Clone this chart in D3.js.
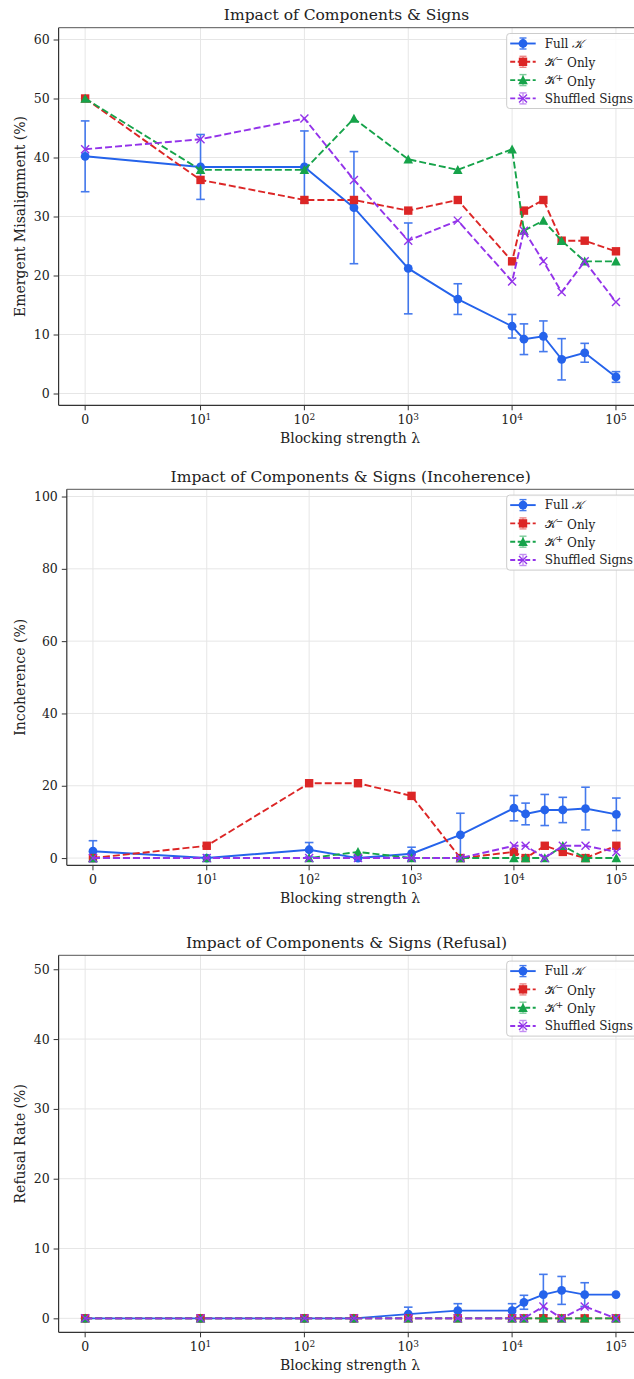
<!DOCTYPE html>
<html>
<head>
<meta charset="utf-8">
<script src="https://cdn.jsdelivr.net/npm/d3@7"></script>
<style>
  html, body { margin: 0; padding: 0; background: #fff; }
  svg text { font-family: "DejaVu Serif", serif; fill: #222; }
</style>
</head>
<body>
<svg id="chart" width="634" height="1379"></svg>
<script>
// Blocking strengths (x values) shared by all panels
const lambdas = [0, 10, 100, 300, 1000, 3000, 10000, 13000, 20000, 30000, 50000, 100000];
const xTickValues = [0, 10, 100, 1000, 10000, 100000];

// Series names
const seriesNames = ["Full", "K- Only", "K+ Only", "Shuffled Signs"];

// Emergent misalignment (%)
const misFull    = [40.2, 38.4, 38.4, 31.5, 21.2, 16.0, 11.4, 9.2, 9.7, 5.8, 6.9, 2.8];
const misFullErr = [6.0, 5.5, 6.1, 9.5, 7.7, 2.6, 2.0, 2.6, 2.6, 3.5, 1.6, 0.9];
const misNeg     = [50.0, 36.2, 32.8, 32.8, 31.0, 32.8, 22.4, 31.0, 32.8, 25.9, 25.9, 24.1];
const misPos     = [50.0, 37.9, 37.9, 46.6, 39.7, 37.9, 41.4, 27.6, 29.3, 25.9, 22.4, 22.4];
const misShuf    = [41.4, 43.1, 46.6, 36.2, 25.9, 29.3, 19.0, 27.6, 22.4, 17.2, 22.4, 15.5];

// Incoherence (%)
const incFull    = [1.9, 0, 2.3, 0, 1.2, 6.4, 13.8, 12.2, 13.3, 13.3, 13.7, 12.1];
const incFullErr = [2.9, 0, 2.0, 0, 1.8, 6.0, 3.5, 3.0, 4.3, 3.5, 5.9, 4.5];
const incNeg     = [0, 3.4, 20.7, 20.7, 17.2, 0, 1.7, 0, 3.4, 1.7, 0, 3.4];
const incPos     = [0, 0, 0, 1.7, 0, 0, 0, 0, 0, 3.4, 0, 0];
const incShuf    = [0, 0, 0, 0, 0, 0, 3.4, 3.4, 0, 3.4, 3.4, 1.7];

// Refusal rate (%)
const refFull    = [0, 0, 0, 0, 0.6, 1.1, 1.1, 2.3, 3.4, 4.0, 3.4, 3.4];
const refFullErr = [0, 0, 0, 0, 1.0, 1.0, 1.0, 1.0, 2.9, 2.0, 1.7, 0];
const refNeg     = [0, 0, 0, 0, 0, 0, 0, 0, 0, 0, 0, 0];
const refPos     = [0, 0, 0, 0, 0, 0, 0, 0, 0, 0, 0, 0];
const refShuf    = [0, 0, 0, 0, 0, 0, 0, 0, 1.7, 0, 1.7, 0];

// Y-axis ticks per panel
const misTicks = [0, 10, 20, 30, 40, 50, 60];
const incTicks = [0, 20, 40, 60, 80, 100];
const refTicks = [0, 10, 20, 30, 40, 50];

const colors = { full: "#2563eb", neg: "#dc2626", pos: "#16a34a", shuf: "#9333ea" };

const panels = [
  { title: "Impact of Components & Signs", ylabel: "Emergent Misalignment (%)",
    left: 58.6, top: 27.7, bottom: 405.3, ydom: [-2, 62], yticks: misTicks,
    full: misFull, fullErr: misFullErr, neg: misNeg, pos: misPos, shuf: misShuf },
  { title: "Impact of Components & Signs (Incoherence)", ylabel: "Incoherence (%)",
    left: 66.8, top: 489.3, bottom: 865.3, ydom: [-2, 102], yticks: incTicks,
    full: incFull, fullErr: incFullErr, neg: incNeg, pos: incPos, shuf: incShuf },
  { title: "Impact of Components & Signs (Refusal)", ylabel: "Refusal Rate (%)",
    left: 58.6, top: 955.3, bottom: 1332.3, ydom: [-2, 52], yticks: refTicks,
    full: refFull, fullErr: refFullErr, neg: refNeg, pos: refPos, shuf: refShuf }
];
const axesRight = 642.5;

// Symmetric log transform (linear below 10, log10 above), matching a symlog axis
function symlogT(v) {
  const lt = 10, ls = 1 / (1 - 1 / 10);
  const a = Math.abs(v);
  return a <= lt ? v * ls : Math.sign(v) * lt * (ls + Math.log10(a / lt));
}

const svg = d3.select("#chart");
svg.append("rect").attr("width", 634).attr("height", 1379).attr("fill", "#fff");

// Marker shapes (relative to the marker centre)
function drawMarker(g, kind, color) {
  if (kind === "circle") {
    g.append("circle").attr("r", 4.4).attr("fill", color);
  } else if (kind === "square") {
    g.append("rect").attr("x", -4.2).attr("y", -4.2).attr("width", 8.4).attr("height", 8.4).attr("fill", color);
  } else if (kind === "triangle") {
    g.append("path").attr("d", "M0,-4.8L4.8,4.2L-4.8,4.2Z").attr("fill", color);
  } else {
    g.append("path").attr("d", "M-4,-4L4,4M-4,4L4,-4").attr("stroke", color).attr("stroke-width", 1.4).attr("fill", "none");
  }
}

const seriesDefs = [
  { key: "full", kind: "circle", dash: null },
  { key: "neg", kind: "square", dash: "7,3" },
  { key: "pos", kind: "triangle", dash: "7,3" },
  { key: "shuf", kind: "x", dash: "7,3" }
];

panels.forEach((p, pi) => {
  const tmin = symlogT(d3.min(lambdas)), tmax = symlogT(d3.max(lambdas));
  const m = (tmax - tmin) * 0.05;
  const xs = d3.scaleLinear().domain([tmin - m, tmax + m]).range([p.left, axesRight]);
  const x = v => xs(symlogT(v));
  const y = d3.scaleLinear().domain(p.ydom).range([p.bottom, p.top]);
  const g = svg.append("g");

  const clipId = "clip" + pi;
  svg.append("clipPath").attr("id", clipId).append("rect")
    .attr("x", p.left).attr("y", p.top).attr("width", axesRight - p.left).attr("height", p.bottom - p.top);

  // grid
  g.append("g").selectAll("line").data(xTickValues).join("line")
    .attr("x1", d => x(d)).attr("x2", d => x(d)).attr("y1", p.top).attr("y2", p.bottom)
    .attr("stroke", "#e6e6e6").attr("stroke-width", 1);
  g.append("g").selectAll("line").data(p.yticks).join("line")
    .attr("x1", p.left).attr("x2", axesRight).attr("y1", d => y(d)).attr("y2", d => y(d))
    .attr("stroke", "#e6e6e6").attr("stroke-width", 1);

  // y axis
  const ya = g.append("g").attr("transform", `translate(${p.left},0)`)
    .call(d3.axisLeft(y).tickValues(p.yticks).tickSize(5).tickPadding(4).tickFormat(d3.format("d")));
  ya.select(".domain").remove();
  ya.selectAll(".tick line").attr("stroke", "#333");
  ya.selectAll(".tick text").style("font-size", "12.5px").style("font-family", "DejaVu Serif").attr("fill", "#222");

  // x axis with power-of-ten labels
  const xa = g.append("g").attr("transform", `translate(0,${p.bottom})`);
  xa.selectAll("line").data(xTickValues).join("line")
    .attr("x1", d => x(d)).attr("x2", d => x(d)).attr("y1", 0).attr("y2", 5).attr("stroke", "#333");
  const xt = xa.selectAll("text").data(xTickValues).join("text")
    .attr("x", d => x(d)).attr("y", 19).attr("text-anchor", "middle").style("font-size", "12.5px");
  xt.each(function(d) {
    const t = d3.select(this);
    if (d === 0) { t.text("0"); return; }
    t.append("tspan").text("10");
    t.append("tspan").attr("dy", "-0.45em").style("font-size", "9px").text(String(Math.round(Math.log10(d))));
  });

  // spines
  g.append("line").attr("x1", p.left).attr("x2", p.left).attr("y1", p.top).attr("y2", p.bottom).attr("stroke", "#333").attr("stroke-width", 1.2);
  g.append("line").attr("x1", p.left).attr("x2", axesRight).attr("y1", p.bottom).attr("y2", p.bottom).attr("stroke", "#333").attr("stroke-width", 1.2);
  g.append("line").attr("x1", p.left).attr("x2", axesRight).attr("y1", p.top).attr("y2", p.top).attr("stroke", "#555").attr("stroke-width", 1);

  // title & labels
  g.append("text").attr("x", (p.left + axesRight) / 2 - 4).attr("y", p.top - 7.5).attr("text-anchor", "middle")
    .style("font-size", "15.5px").text(p.title);
  g.append("text").attr("x", 350).attr("y", p.bottom + 38).attr("text-anchor", "middle")
    .style("font-size", "14px").text("Blocking strength λ");
  g.append("text").attr("transform", `translate(24.5,${(p.top + p.bottom) / 2}) rotate(-90)`)
    .attr("text-anchor", "middle").style("font-size", "14px").text(p.ylabel);

  // series
  const plot = g.append("g").attr("clip-path", `url(#${clipId})`);
  seriesDefs.forEach(s => {
    const vals = p[s.key];
    const color = colors[s.key];
    const pts = lambdas.map((l, i) => [l, vals[i]]);
    plot.append("path").datum(pts)
      .attr("d", d3.line().x(d => x(d[0])).y(d => y(d[1])))
      .attr("fill", "none").attr("stroke", color).attr("stroke-width", 1.9)
      .attr("stroke-dasharray", s.dash);
    if (s.key === "full") {
      const eb = plot.append("g").attr("stroke", color).attr("stroke-width", 1.6).attr("opacity", 0.85);
      pts.forEach((d, i) => {
        const e = p.fullErr[i];
        if (e <= 0) return;
        const cx = x(d[0]);
        eb.append("line").attr("x1", cx).attr("x2", cx).attr("y1", y(d[1] - e)).attr("y2", y(d[1] + e));
        eb.append("line").attr("x1", cx - 4.3).attr("x2", cx + 4.3).attr("y1", y(d[1] - e)).attr("y2", y(d[1] - e));
        eb.append("line").attr("x1", cx - 4.3).attr("x2", cx + 4.3).attr("y1", y(d[1] + e)).attr("y2", y(d[1] + e));
      });
    }
    pts.forEach(d => {
      const mg = plot.append("g").attr("transform", `translate(${x(d[0])},${y(d[1])})`);
      drawMarker(mg, s.kind, color);
    });
  });

  // legend
  const lx = 506.7, ly = p.top + 5.8;
  const lg = g.append("g");
  lg.append("rect").attr("x", lx).attr("y", ly).attr("width", 134).attr("height", 75).attr("rx", 3)
    .attr("fill", "#fff").attr("fill-opacity", 0.85).attr("stroke", "#cccccc").attr("stroke-width", 1);
  seriesDefs.forEach((s, i) => {
    const cy = ly + 10 + i * 18.3;
    const color = colors[s.key];
    lg.append("line").attr("x1", lx + 3.5).attr("x2", lx + 29).attr("y1", cy).attr("y2", cy)
      .attr("stroke", color).attr("stroke-width", 1.9).attr("stroke-dasharray", s.dash ? "5,2.5" : null);
    const ex = lx + 16.3;
    const eg = lg.append("g").attr("stroke", color).attr("stroke-width", 1.4).attr("opacity", s.key === "full" ? 0.85 : 0.55);
    eg.append("line").attr("x1", ex).attr("x2", ex).attr("y1", cy - 5.5).attr("y2", cy + 5.5);
    eg.append("line").attr("x1", ex - 3.5).attr("x2", ex + 3.5).attr("y1", cy - 5.5).attr("y2", cy - 5.5);
    eg.append("line").attr("x1", ex - 3.5).attr("x2", ex + 3.5).attr("y1", cy + 5.5).attr("y2", cy + 5.5);
    const mg = lg.append("g").attr("transform", `translate(${ex},${cy})`);
    drawMarker(mg, s.kind, color);
    const t = lg.append("text").attr("x", lx + 38).attr("y", cy + 4.2).style("font-size", "12px");
    if (s.key === "full") {
      t.append("tspan").text("Full ");
      t.append("tspan").style("font-style", "italic").text("𝒦");
    } else if (s.key === "neg") {
      t.append("tspan").text("𝒦");
      t.append("tspan").attr("dy", "-0.4em").style("font-size", "9px").text("−");
      t.append("tspan").attr("dy", "0.4em").text(" Only");
    } else if (s.key === "pos") {
      t.append("tspan").text("𝒦");
      t.append("tspan").attr("dy", "-0.4em").style("font-size", "9px").text("+");
      t.append("tspan").attr("dy", "0.4em").text(" Only");
    } else {
      t.text("Shuffled Signs");
    }
  });
});
</script>
</body>
</html>
